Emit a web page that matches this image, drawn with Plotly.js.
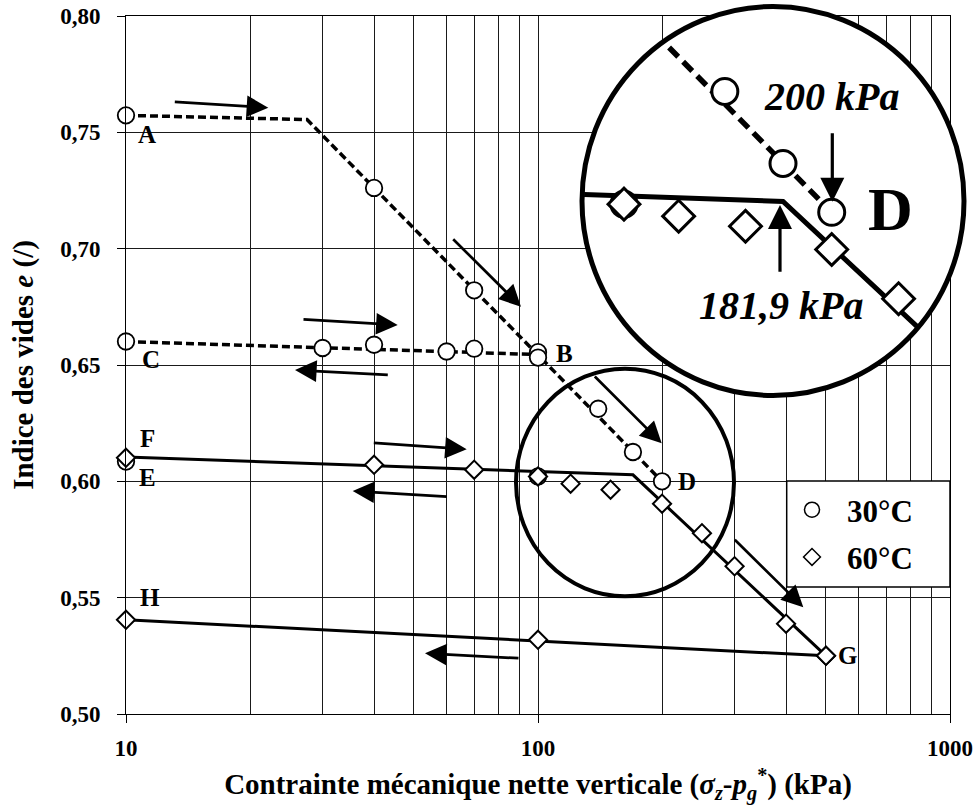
<!DOCTYPE html>
<html><head><meta charset="utf-8">
<script src="https://cdn.plot.ly/plotly-3.0.1.min.js"></script>
<style>html,body{margin:0;padding:0;background:#fff}#chart{width:973px;height:809px}</style>
</head><body><div id="chart"></div>
<script>
// ---------------- data ----------------
// 30 °C : loading A -> B -> D, unloading B -> C
const load30_s   = [10, 40, 70, 100, 140, 170, 200];
const load30_e   = [0.7573, 0.7261, 0.6821, 0.6555, 0.6312, 0.6126, 0.6000];
const unload30_s = [100, 70, 60, 40, 30, 10];
const unload30_e = [0.6532, 0.6570, 0.6558, 0.6587, 0.6573, 0.6601];
const extra30_s  = [10, 100];
const extra30_e  = [0.6085, 0.6021];
// 60 °C : loading F -> G, unloading G -> H
const load60_s   = [10, 40, 70, 100, 120, 150, 200, 250, 300, 400, 500];
const load60_e   = [0.6101, 0.6071, 0.6050, 0.6021, 0.5990, 0.5964, 0.5904, 0.5777, 0.5635, 0.5388, 0.5250];
const unload60_s = [500, 100, 10];
const unload60_e = [0.5250, 0.5319, 0.5405];
// trend lines drawn on the figure
const fit30Load_s   = [10, 27.5, 200];
const fit30Load_e   = [0.7573, 0.7555, 0.6000];
const fit30Unload_s = [10, 100];
const fit30Unload_e = [0.6601, 0.6545];
const fit60Load_s   = [10, 170, 500];
const fit60Load_e   = [0.6105, 0.6028, 0.5250];
const fit60Unload_s = [10, 500];
const fit60Unload_e = [0.5405, 0.5250];
// ticks / texts
const xTickVals = [10, 100, 1000];
const xTickText = ['10', '100', '1000'];
const yTickVals = [0.50, 0.55, 0.60, 0.65, 0.70, 0.75, 0.80];
const yTickText = ['0,50', '0,55', '0,60', '0,65', '0,70', '0,75', '0,80'];
const seriesNames = ['30°C', '60°C'];
const insetTexts = ['200 kPa', '181,9 kPa', 'D'];
const xTitle = 'Contrainte mécanique nette verticale (<i>σ<sub>z</sub></i>-<i>p<sub>g</sub></i><sup>*</sup>) (kPa)';
const yTitle = 'Indice des vides <i>e</i> (/)';

// ---------------- geometry (pixels) ----------------
const W = 973, H = 809;
const MAIN = {l: 126, r: 950, t: 16, b: 714};
const PAPER = {l: 126, r: 968, t: 0, b: 714};
const pw = PAPER.r - PAPER.l, ph = PAPER.b - PAPER.t;
const px2paper = px => (px - PAPER.l) / pw;
const py2paper = py => (PAPER.b - py) / ph;
const decadePx = (MAIN.r - MAIN.l) / 2;
const mainL = px => 1 + (px - MAIN.l) / decadePx;
const mainE = py => 0.80 - (py - MAIN.t) * 0.30 / (MAIN.b - MAIN.t);

// inset (magnified view around D)
const INS = {x100: 624, kx: 690, y060: 212.3, ky: 3875, cx: 773, cy: 201, rx: 191, ry: 194.5,
             box: {l: 578, r: 968, t: 0, b: 400}};
const insPX = s => INS.x100 + INS.kx * (Math.log10(s) - 2);
const insPY = e => INS.y060 - INS.ky * (e - 0.6);
const insL = px => 2 + (px - INS.x100) / INS.kx;
const insE = py => 0.6 + (INS.y060 - py) / INS.ky;

function clipToInset(sArr, eArr, shrink) {
  const rx = INS.rx - shrink, ry = INS.ry - shrink;
  const U = sArr.map(s => (insPX(s) - INS.cx) / rx);
  const V = eArr.map(e => (insPY(e) - INS.cy) / ry);
  const outS = [], outE = [];
  const push = (u, v) => { outS.push(Math.pow(10, insL(INS.cx + u * rx))); outE.push(insE(INS.cy + v * ry)); };
  for (let i = 0; i < U.length - 1; i++) {
    const du = U[i+1] - U[i], dv = V[i+1] - V[i];
    const a = du*du + dv*dv, b = 2*(U[i]*du + V[i]*dv), c = U[i]*U[i] + V[i]*V[i] - 1;
    const disc = b*b - 4*a*c;
    if (disc <= 0) continue;
    const t1 = (-b - Math.sqrt(disc)) / (2*a), t2 = (-b + Math.sqrt(disc)) / (2*a);
    const ta = Math.max(0, t1), tb = Math.min(1, t2);
    if (ta >= tb) continue;
    if (outS.length && ta > 0) { outS.push(null); outE.push(null); }
    push(U[i] + ta*du, V[i] + ta*dv);
    push(U[i] + tb*du, V[i] + tb*dv);
  }
  return {s: outS, e: outE};
}
function insideInset(sArr, eArr, margin) {
  const s = [], e = [];
  sArr.forEach((v, i) => {
    const u = (insPX(v) - INS.cx) / (INS.rx - margin), w = (insPY(eArr[i]) - INS.cy) / (INS.ry - margin);
    if (u*u + w*w < 1) { s.push(v); e.push(eArr[i]); }
  });
  return {s, e};
}

const BLACK = '#000';
const circ = (size, lw) => ({symbol: 'circle', size: size, color: '#fff', line: {color: BLACK, width: lw}});
const diam = (size, lw) => ({symbol: 'diamond', size: size, color: '#fff', line: {color: BLACK, width: lw}});
const base = {type: 'scatter', hoverinfo: 'skip', showlegend: false, cliponaxis: false};

const traces = [];
// main lines
traces.push(Object.assign({}, base, {x: fit30Load_s, y: fit30Load_e, mode: 'lines', line: {color: BLACK, width: 3.5, dash: '8px,4px'}}));
traces.push(Object.assign({}, base, {x: fit30Unload_s, y: fit30Unload_e, mode: 'lines', line: {color: BLACK, width: 3.5, dash: '8px,4px'}}));
traces.push(Object.assign({}, base, {x: fit60Load_s, y: fit60Load_e, mode: 'lines', line: {color: BLACK, width: 3}}));
traces.push(Object.assign({}, base, {x: fit60Unload_s, y: fit60Unload_e, mode: 'lines', line: {color: BLACK, width: 3}}));
// main markers
traces.push(Object.assign({}, base, {x: extra30_s, y: extra30_e, mode: 'markers', marker: circ(16.5, 1.8)}));
traces.push(Object.assign({}, base, {x: load30_s, y: load30_e, mode: 'markers', marker: circ(16.5, 1.8)}));
traces.push(Object.assign({}, base, {x: unload30_s, y: unload30_e, mode: 'markers', marker: circ(16.5, 1.8)}));
traces.push(Object.assign({}, base, {x: load60_s, y: load60_e, mode: 'markers', marker: diam(14, 2)}));
traces.push(Object.assign({}, base, {x: unload60_s, y: unload60_e, mode: 'markers', marker: diam(14, 2)}));
// subplot holding the white inset disc
traces.push({type: 'scatter', x: [null], y: [null], xaxis: 'x2', yaxis: 'y2', showlegend: false, hoverinfo: 'skip'});
// inset (magnified) content
const ib = {type: 'scatter', hoverinfo: 'skip', showlegend: false, xaxis: 'x3', yaxis: 'y3'};
const c30 = clipToInset(fit30Load_s, fit30Load_e, 8);
const c60 = clipToInset(fit60Load_s, fit60Load_e, 2);
traces.push(Object.assign({}, ib, {x: c30.s, y: c30.e, mode: 'lines', line: {color: BLACK, width: 5.5, dash: '13px,7px'}}));
traces.push(Object.assign({}, ib, {x: c60.s, y: c60.e, mode: 'lines', line: {color: BLACK, width: 5}}));
[[extra30_s, extra30_e, 'c'], [load30_s, load30_e, 'c'], [load60_s, load60_e, 'd']].forEach(([s, e, k]) => {
  const p = insideInset(s, e, 14);
  traces.push(Object.assign({}, ib, {x: p.s, y: p.e, mode: 'markers', marker: k === 'c' ? circ(26, 3) : diam(24.5, 3)}));
});
// legend entries
traces.push({type: 'scatter', x: [null], y: [null], mode: 'markers', name: seriesNames[0], legendgroup: 'a', marker: {symbol: 'circle', size: 15, color: '#fff', line: {color: BLACK, width: 1.5}}, hoverinfo: 'skip'});
traces.push({type: 'scatter', x: [null], y: [null], mode: 'markers', name: seriesNames[1], legendgroup: 'b', marker: {symbol: 'diamond', size: 13, color: '#fff', line: {color: BLACK, width: 1.5}}, hoverinfo: 'skip'});

// ---------------- annotations ----------------
const FONT = '"Liberation Serif", "Times New Roman", serif';
const annotations = [];
const pointLabels = [
  ['A', load30_s[0], load30_e[0], 21, 19],
  ['B', unload30_s[0], unload30_e[0], 26, -4],
  ['C', unload30_s[5], unload30_e[5], 25, 17.5],
  ['D', load30_s[6], load30_e[6], 25, 0],
  ['E', extra30_s[0], extra30_e[0], 21.5, 16],
  ['F', load60_s[0], load60_e[0], 21, -19],
  ['G', load60_s[10], load60_e[10], 22, 0],
  ['H', unload60_s[2], unload60_e[2], 24, -22.5]
];
pointLabels.forEach(([t, s, e, dx, dy]) => annotations.push({
  text: t, x: Math.log10(s), y: e, xref: 'x', yref: 'y', showarrow: false,
  xshift: dx, yshift: -dy, xanchor: 'center', yanchor: 'middle',
  font: {family: FONT, size: 25, weight: 'bold', color: BLACK}
}));
// direction arrows (tail x, tail y, tip x, tip y) in pixels
const arrowsPx = [
  [173.3, 101.7, 268.3, 107.7],
  [451.7, 237.7, 521.0, 306.7],
  [302.0, 319.3, 397.7, 325.0],
  [389.3, 375.0, 295.0, 370.0],
  [593.3, 375.0, 661.7, 443.3],
  [372.3, 442.7, 466.7, 449.3],
  [448.3, 496.7, 352.7, 491.0],
  [733.3, 538.3, 803.3, 607.3],
  [520.0, 658.3, 425.0, 653.3]
];
arrowsPx.forEach(([x0, y0, x1, y1]) => annotations.push({
  text: '', x: mainL(x1), y: mainE(y1), xref: 'x', yref: 'y', ax: x0 - x1, ay: y0 - y1,
  showarrow: true, arrowhead: 2, arrowsize: 1.6, arrowwidth: 2.7, arrowcolor: BLACK, standoff: 0, startstandoff: 0
}));
const insetArrowsPx = [[832.3, 131.7, 832.3, 201.7], [780, 273.3, 780, 205]];
insetArrowsPx.forEach(([x0, y0, x1, y1]) => annotations.push({
  text: '', x: insL(x1), y: insE(y1), xref: 'x3', yref: 'y3', ax: x0 - x1, ay: y0 - y1,
  showarrow: true, arrowhead: 2, arrowsize: 1.5, arrowwidth: 3.2, arrowcolor: BLACK, standoff: 0, startstandoff: 0
}));
annotations.push({text: '<b><i>' + insetTexts[0] + '</i></b>', x: insL(831.7), y: insE(96.7), xref: 'x3', yref: 'y3', showarrow: false,
  xanchor: 'center', yanchor: 'middle', font: {family: FONT, size: 40, color: BLACK}});
annotations.push({text: '<b><i>' + insetTexts[1] + '</i></b>', x: insL(780.8), y: insE(305.8), xref: 'x3', yref: 'y3', showarrow: false,
  xanchor: 'center', yanchor: 'middle', font: {family: FONT, size: 40, color: BLACK}});
annotations.push({text: insetTexts[2], x: insL(890.8), y: insE(209.2), xref: 'x3', yref: 'y3', showarrow: false,
  xanchor: 'center', yanchor: 'middle', font: {family: FONT, size: 62, weight: 'bold', color: BLACK}});

// ---------------- shapes ----------------
const shapes = [
  {type: 'circle', xref: 'x2', yref: 'y2', layer: 'below',
   x0: INS.cx - INS.rx, x1: INS.cx + INS.rx, y0: INS.cy - INS.ry, y1: INS.cy + INS.ry,
   fillcolor: '#fff', line: {color: BLACK, width: 5}},
  {type: 'circle', xref: 'paper', yref: 'paper', layer: 'above',
   x0: px2paper(625 - 109), x1: px2paper(625 + 109), y0: py2paper(482.5 + 113.8), y1: py2paper(482.5 - 113.8),
   line: {color: BLACK, width: 4}},
  {type: 'rect', xref: 'paper', yref: 'paper', layer: 'above',
   x0: px2paper(786.7), x1: px2paper(950), y0: py2paper(587), y1: py2paper(481),
   fillcolor: '#fff', line: {color: BLACK, width: 1.5}}
];

const minorX = [];
for (const d of [10, 100]) for (let k = 2; k <= 9; k++) minorX.push(k * d);

const tickFont = {family: FONT, size: 23, weight: 'bold', color: BLACK};
const GRID = '#1a1a1a';
const layout = {
  width: W, height: H,
  margin: {l: PAPER.l, r: W - PAPER.r, t: PAPER.t, b: H - PAPER.b, pad: 0},
  paper_bgcolor: '#fff', plot_bgcolor: 'rgba(0,0,0,0)',
  font: {family: FONT, color: BLACK},
  showlegend: true,
  legend: {x: px2paper(777), y: py2paper(483), xanchor: 'left', yanchor: 'top',
           bgcolor: 'rgba(0,0,0,0)', borderwidth: 0, itemwidth: 60, tracegroupgap: 4,
           font: {family: FONT, size: 31, weight: 'bold', color: BLACK}},
  xaxis: {type: 'log', range: [1, 3], domain: [0, px2paper(MAIN.r)], anchor: 'y',
          tickmode: 'array', tickvals: xTickVals, ticktext: xTickText, tickfont: tickFont,
          ticks: 'outside', ticklen: 8, tickwidth: 1, tickcolor: BLACK, ticklabelstandoff: 5,
          showgrid: true, gridcolor: GRID, gridwidth: 1,
          minor: {tickmode: 'array', tickvals: minorX, showgrid: true, gridcolor: GRID, gridwidth: 1, ticks: ''},
          showline: true, mirror: true, linecolor: BLACK, linewidth: 1, zeroline: false, automargin: false,
          title: {text: xTitle, font: {family: FONT, size: 29, weight: 'bold', color: BLACK}, standoff: 14}},
  yaxis: {range: [0.5, 0.8], domain: [0, py2paper(MAIN.t)], anchor: 'x',
          tickmode: 'array', tickvals: yTickVals, ticktext: yTickText, tickfont: tickFont,
          ticks: 'outside', ticklen: 8, tickwidth: 1, tickcolor: BLACK, ticklabelstandoff: 12,
          showgrid: true, gridcolor: GRID, gridwidth: 1,
          showline: true, mirror: true, linecolor: BLACK, linewidth: 1, zeroline: false, automargin: false,
          title: {text: yTitle, font: {family: FONT, size: 29, weight: 'bold', color: BLACK}, standoff: 18}},
  xaxis2: {domain: [px2paper(INS.box.l), px2paper(INS.box.r)], range: [INS.box.l, INS.box.r],
           anchor: 'y2', visible: false, fixedrange: true},
  yaxis2: {domain: [py2paper(INS.box.b), py2paper(INS.box.t)], range: [INS.box.b, INS.box.t],
           anchor: 'x2', visible: false, fixedrange: true},
  xaxis3: {type: 'log', domain: [px2paper(INS.box.l), px2paper(INS.box.r)], range: [insL(INS.box.l), insL(INS.box.r)],
           anchor: 'y3', visible: false, fixedrange: true},
  yaxis3: {domain: [py2paper(INS.box.b), py2paper(INS.box.t)], range: [insE(INS.box.b), insE(INS.box.t)],
           anchor: 'x3', visible: false, fixedrange: true},
  shapes: shapes,
  annotations: annotations
};

Plotly.newPlot('chart', traces, layout, {staticPlot: true, displayModeBar: false});
</script>
</body></html>
